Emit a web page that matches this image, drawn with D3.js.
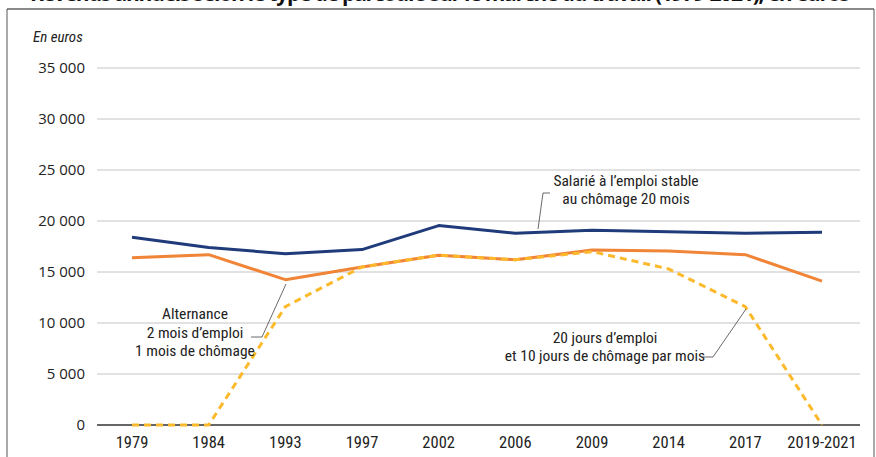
<!DOCTYPE html>
<html><head><meta charset="utf-8">
<script src="https://cdn.jsdelivr.net/npm/d3@7"></script>
<style>
html,body{margin:0;padding:0;background:#fff;}
svg{display:block;}
.cond{font-family:"Liberation Sans Narrow","Roboto Condensed","DejaVu Sans Condensed","Open Sans",sans-serif;}
</style></head>
<body><svg id="c" width="876" height="457"></svg>
<script>
const categories = ["1979","1984","1993","1997","2002","2006","2009","2014","2017","2019-2021"];
const stableValues = [18400,17400,16800,17200,19550,18800,19100,18950,18800,18900];
const alternanceValues = [16400,16700,14250,15500,16650,16200,17150,17050,16700,14100];
const joursValues = [0,0,11600,15500,16650,16200,17000,15300,11600,0];
const yTicks = [0,5000,10000,15000,20000,25000,30000,35000];
const titleText = "Revenus annuels selon le type de parcours sur le marché du travail (1979-2021), en euros";

const svg = d3.select("#c");
const fmt = v => d3.format(",")(v).replace(/,/g, "\u00a0");

const x = d3.scalePoint().domain(categories).range([132, 822]);
const y = d3.scaleLinear().domain([0, 35000]).range([425, 68]);

// title, clipped at the top edge as in the source
svg.append("text").attr("x", 30).attr("y", 1)
  .attr("font-family", "Open Sans, sans-serif").attr("font-weight", "bold")
  .attr("font-size", 21).attr("fill", "#111").attr("textLength", 820)
  .text(titleText);

// frame
svg.append("line").attr("x1", 7).attr("x2", 874).attr("y1", 9).attr("y2", 9)
  .attr("stroke", "#8a8a8a").attr("stroke-width", 2);
svg.append("line").attr("x1", 7).attr("x2", 7).attr("y1", 9).attr("y2", 457)
  .attr("stroke", "#555").attr("stroke-width", 1);
svg.append("line").attr("x1", 874).attr("x2", 874).attr("y1", 9).attr("y2", 457)
  .attr("stroke", "#555").attr("stroke-width", 1);

svg.append("text").attr("x", 33).attr("y", 42)
  .attr("class", "cond").attr("font-style", "italic").attr("font-size", 15).attr("fill", "#222")
  .text("En euros");

// gridlines
svg.append("g").selectAll("line").data(yTicks.filter(d => d > 0)).join("line")
  .attr("x1", 97).attr("x2", 860).attr("y1", d => y(d)).attr("y2", d => y(d))
  .attr("stroke", "#c4c4c4").attr("stroke-width", 1);

// y labels
svg.append("g").selectAll("text").data(yTicks).join("text")
  .attr("x", 85).attr("y", d => y(d) + 5).attr("text-anchor", "end")
  .attr("font-family", "Open Sans, sans-serif").attr("font-size", 15).attr("fill", "#222")
  .text(d => fmt(d));

// x axis
svg.append("line").attr("x1", 97).attr("x2", 860).attr("y1", y(0)).attr("y2", y(0))
  .attr("stroke", "#333").attr("stroke-width", 1.5);
svg.append("g").selectAll("text").data(categories).join("text")
  .attr("class", "cond").attr("x", d => x(d)).attr("y", 448).attr("text-anchor", "middle")
  .attr("font-size", 16.5).attr("fill", "#222").text(d => d);

const line = d3.line().x((d, i) => x(categories[i])).y(d => y(d));

svg.append("path").datum(stableValues).attr("d", line).attr("fill", "none")
  .attr("stroke", "#1f3b7a").attr("stroke-width", 3).attr("stroke-linejoin", "round");
svg.append("path").datum(alternanceValues).attr("d", line).attr("fill", "none")
  .attr("stroke", "#f08437").attr("stroke-width", 3).attr("stroke-linejoin", "round");
svg.append("path").datum(joursValues).attr("d", line).attr("fill", "none")
  .attr("stroke", "#fdb92c").attr("stroke-width", 3).attr("stroke-dasharray", "7,5");

// annotations
function label(lines, cx, y0, dy) {
  const t = svg.append("text").attr("class", "cond").attr("font-size", 15.5).attr("fill", "#222")
    .attr("text-anchor", "middle");
  lines.forEach((s, i) => t.append("tspan").attr("x", cx).attr("y", y0 + i * dy).text(s));
}
function leader(pts) {
  svg.append("path").attr("d", d3.line()(pts)).attr("fill", "none")
    .attr("stroke", "#444").attr("stroke-width", 0.8);
}
label(["Salarié à l\u2019emploi stable", "au chômage 20 mois"], 626, 186, 18);
leader([[550, 193], [543, 193], [538, 229]]);
label(["Alternance", "2 mois d\u2019emploi", "1 mois de chômage"], 195, 319, 18.5);
leader([[251, 337], [262, 337], [286, 284]]);
label(["20 jours d\u2019emploi", "et 10 jours de chômage par mois"], 605, 343, 17.5);
leader([[702, 357], [713, 357], [746, 309]]);
</script></body></html>
